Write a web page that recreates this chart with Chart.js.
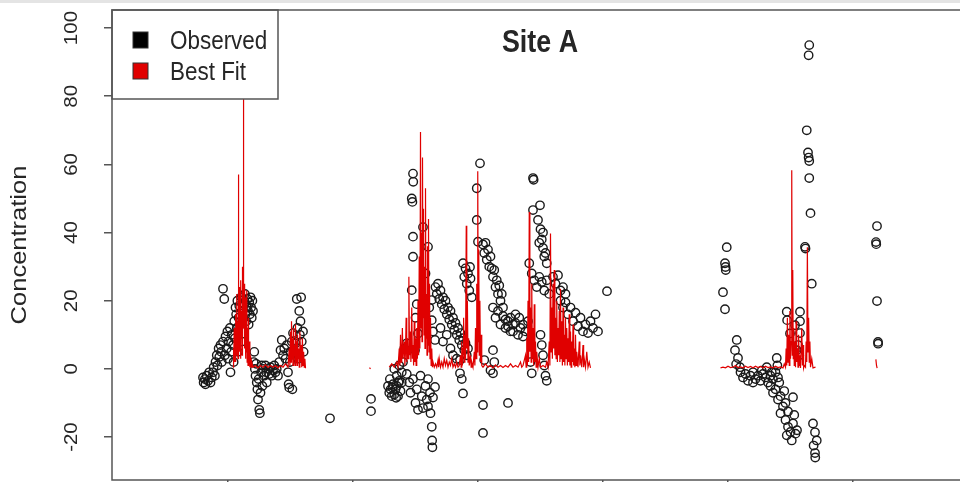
<!DOCTYPE html>
<html><head><meta charset="utf-8">
<script src="https://cdn.jsdelivr.net/npm/chart.js@4.4.1/dist/chart.umd.min.js"></script>
<style>
html,body{margin:0;padding:0;background:#fff;overflow:hidden;width:960px;height:482px}
#wrap{position:absolute;left:0;top:0;width:1000px;height:500px}
#strip{position:absolute;left:0;top:0;width:960px;height:3px;background:#e4e4e4;z-index:2}
</style></head>
<body><div id="strip"></div><div id="wrap"><canvas id="c"></canvas></div>
<script>
const titleText = 'Site A';
const yAxisTitle = 'Concentration';
const seriesNames = ['Observed', 'Best Fit'];
const seriesColors = ['#000000', '#e00000'];
const yTickValues = [-20, 0, 20, 40, 60, 80, 100];
const yTickLabels = ['-20', '0', '20', '40', '60', '80', '100'];
const xTickValues = [100, 200, 300, 400, 500, 600];

// Observed values [time, concentration]
const obs1 = [[80,-2.5],[80.5,-4],[81.5,-3],[82,-4.5],[83,-2],[84,-3.5],[85,-1],[86,-4],[87,-2.5],[88,-1],[88.5,0.5],[89.5,-2],[90,2],[91,4],[91.5,1],[92.5,6],[93,3.5],[94,7],[94.5,5],[95,2],[96,8],[96,23.5],[97,20.5],[97.5,4],[98,9.5],[99,6],[99.5,11],[100,3],[100.5,8],[101.5,12],[102,-1],[102.5,5],[103,10],[104,7],[104.5,2],[105,14],[105.5,9],[106,18],[106.5,16],[107,12],[107.5,20],[108,5],[108.5,15],[109,18.5],[110,13],[110.5,21],[111,8],[111.5,17],[112,15],[113,19],[113.5,22],[114,16],[114.5,14],[115,18],[115.5,20.5],[116,17],[116.5,13],[117,19.5],[117.5,16],[118,21],[118.5,18],[119,15],[119.5,20],[120,17],[120.5,2],[121,5],[121.5,0],[122,-2],[122.5,1.5],[123,-4],[123.5,-6],[124,-9],[124.5,-3],[125,-12],[125.5,-13],[126,-7],[126.5,-1],[127,1],[127.5,-5],[128,0],[129,-2],[130,1],[130.5,-1],[131,-4],[132,0],[133,-1.5],[134,0.5],[135,-2],[136,-0.5],[137,1],[138,-1],[139,0],[140,-2],[141,2],[142,5.5],[143,8.5],[144,4],[145,6],[146,3],[147,7],[148,-1],[148.5,-4.5],[149,-5.5],[149.5,2],[150,5],[151,8],[151.5,-6],[152,10.5],[153,4.5],[154,7.5],[155,20.5],[155.5,12],[156,3],[157,17],[157.5,10],[158,14],[158.5,21],[159,8],[160,11],[160.5,5],[181.6,-14.5]];
const obs2 = [[214.4,-8.8],[214.4,-12.4],[228,-5],[229,-7],[230,-6],[231,-8],[232,-4.5],[233,-7.5],[234,-6],[235,-5],[236,-8],[237,-3.5],[238,-6.5],[239,-4],[229.5,-3],[231.5,-5.5],[234.5,-8.5],[236.5,-4],[233,0],[235,-2],[237,1],[239,-1],[240,2],[241,6],[243,7.5],[243,-1.5],[245,-4],[246,-7],[248,-3],[250,-10],[251,-6],[252,-12],[254,-2],[255,-8],[256,-11.5],[258,-5],[259,-9],[260,-3],[261.6,-7],[262,-13],[263,-17],[263.3,-21],[263.5,-23],[265.6,-5.3],[260,-11],[264,-8.4],[248,57.3],[248.2,54.9],[247,50],[247.5,49],[248,38.8],[248,32.9],[247,23.1],[249.6,5.5],[252,10.4],[250,15],[251,19],[256,41.6],[260,35.8],[263,20.2],[263,14.3],[265.6,8.5],[258,28],[261,18],[264,11],[266,24],[267,22],[268,25],[269,20.5],[270,23],[271,19],[272,21],[273,17.5],[274,20],[275,16],[276,18],[277,14.5],[278,17],[279,13],[280,15],[281,11.5],[282,13.5],[283,10],[284,12],[285,8.5],[286,10.5],[287,7],[288,9],[289,5.5],[290,7.5],[291,4],[292,6],[270,12],[272,8],[275,10],[278,6],[280,4],[283,3],[285.6,-1.3],[288,-7.2],[287,-3],[285.6,2.6],[288,31],[289,27],[290,29.5],[291,25],[292,28],[293,23],[294,26.5],[293.6,29.9],[295,21],[301.6,60.3],[299,53],[299,43.7],[300,37.3],[304,36.5],[305,34],[306,37],[307,32],[308,35],[309,30],[310,33],[311,29.5],[312,27],[313,29],[314,24],[315,26],[316,22],[317,24.5],[318,20],[319,22],[320,18],[312,18],[314,15],[316,17],[318,13],[320,15.5],[322,12],[324,14],[326,11],[328,13],[322,14.5],[324,12.5],[326,15],[328,11],[330,13.5],[332,10],[334,12],[336,9.5],[338,11],[340,14],[330,16],[333,15],[336,13],[304,-10.6],[304,-18.8],[324,-10],[312,5.5],[312,-1.3],[313,2],[305,2.6],[310,-0.4],[344,56],[344.5,55.5],[344,46.6],[349.6,48],[348,43.7],[350,41],[351,38],[352,35.5],[353,33],[349,37],[352,40],[354,34],[355,31],[341,31],[343,28],[345,26],[347,24],[349,27],[351,25.5],[353,23],[355,26],[357,22],[350,10],[351,7],[352,4],[353,1],[354,-2],[355,-3.5],[343,-1.3],[342,2],[360,27],[362,25],[364,27.5],[366,23],[368,24],[370,22],[366,20],[368,18],[370,19.5],[372,16],[374,18],[376,14],[378,16.5],[380,12.5],[382,15],[384,11],[386,13],[388,10.5],[390,14],[392,12],[394,16],[396,11],[403.2,22.8]];
const obs3 = [[499,35.7],[497.6,31],[498,29.9],[498.2,29],[496,22.5],[497.6,17.5],[507,8.5],[505.6,5.5],[508,3.2],[506.5,1.4],[509.6,0.5],[510,-1],[512,-2.5],[514,-1.5],[516,-3.5],[518,-2],[520,-4],[520,-1],[522,-3],[524,-2],[526,-3.5],[528,-1.5],[530,-2.5],[532,-4],[534,-2],[536,-3],[538,-1],[540,-2.5],[527,-0.5],[531,0.5],[535,-1],[539,3.2],[539.5,1],[534,-5],[536,-7],[538,-6],[540,-9],[542,-8],[544,-11],[546,-10],[548,-12.5],[541,-4],[545,-6.5],[542,-13],[546,-15],[548,-17],[550,-18.5],[552,-16],[554,-19],[547,-19.5],[553,-13.5],[551,-21],[552,-8.3],[555.2,-18],[547,16.8],[547.3,14.3],[557.6,16.8],[557.6,14],[557.6,10.5],[553.6,12.8],[549.6,10.4],[555,5.5],[556,7],[557,4],[565,95],[564.5,92],[563,70],[564,63.5],[564.5,62],[565,61],[565,56],[566,45.7],[561.6,35.8],[562,35.3],[567,25],[568,-16],[569.6,-18.6],[571,-21],[568.5,-22.5],[569.6,-24.7],[569.8,-26]];
const obs4 = [[619.2,41.9],[618.4,37.2],[618.6,36.6],[619.2,19.9],[620,7.9],[620.1,7.4]];

// Best fit values [time, concentration], one array per continuous stretch
const fit1 = [[104,0.5],[104.3,6],[104.6,1],[105,12],[105.3,2],[105.6,9],[106,2],[106.3,16],[106.6,4],[107,22],[107.3,6],[107.6,14],[108,3],[108.3,57],[108.6,8],[109,24],[109.3,5],[109.6,19],[110,3],[110.3,26],[110.6,9],[111,17],[111.3,4],[111.6,30],[112,12],[112.3,95],[112.6,14],[113,25],[113.3,6],[113.6,21],[114,3],[114.3,18],[114.6,5],[115,23],[115.3,2],[115.6,12],[116,1],[116.3,15],[116.6,2],[117,8],[117.5,0.5],[118,4],[118.5,0.5],[119,2],[120,0.5],[122,1],[124,0.3],[126,1],[128,0.5],[130,1.2],[132,0.4],[134,1],[136,0.5],[138,1],[140,0.3],[142,1],[144,0.5],[146,1.5],[148,0.5],[149,6],[149.5,1],[150,11],[150.4,2],[150.8,14],[151.2,3],[151.6,9],[152,1],[152.4,12],[152.8,4],[153.2,7],[153.6,1],[154,13],[154.4,2],[154.8,8],[155.2,1],[155.6,10],[156,3],[156.5,6],[157,0.5],[157.5,11],[158,2],[158.5,7],[159,0.5],[159.5,9],[160,1],[160.5,5],[161,0.5],[161.5,3],[162,0.2]];
const fit2 = [[213.2,0.4],[214,0]];
const fit3 = [[229,0.5],[231,1.5],[233,0.5],[235,2],[236,0.5],[237,6],[237.5,1],[238,10],[238.5,2],[239,4],[239.5,12],[240,3],[241,8],[241.5,1],[242,5],[242.5,15],[243,2],[243.5,9],[244,3],[244.7,27],[245.2,4],[245.8,11],[246.3,2],[247,18],[247.5,3],[248,7],[248.5,1],[249,14],[249.5,2],[250,9],[250.5,1],[251,12],[251.5,3],[252,20],[252.5,4],[253,33],[253.5,6],[254,69.5],[254.4,12],[254.8,40],[255.2,8],[255.6,62],[256,15],[256.4,47],[256.8,10],[257.2,30],[257.6,6],[258,53],[258.4,9],[258.8,22],[259.2,4],[259.6,36],[260,7],[260.4,44],[260.8,5],[261.2,25],[261.6,3],[262,15],[262.5,1],[263,6],[263.5,0.5],[264,2],[265,0.5],[266,1.5],[267,0.5],[268,2.5],[268.5,0.5],[269,3],[270,0.5],[271,2],[272,0.5],[273,3],[274,1],[275,2.5],[276,0.5],[277,2],[278,1],[279,3],[280,0.5],[281,1.5],[282,0.5],[283,2],[284,0.5],[285,1],[286,4],[286.5,0.5],[287,8],[287.5,1],[288,6],[288.5,15],[289,2],[289.5,10],[290,3],[290.6,42],[291,6],[291.5,20],[292,2],[292.5,9],[293,1],[294,4],[294.5,0.5],[295,2],[296,0.5],[297,5],[297.5,1],[298,12],[298.5,3],[299,25],[299.4,5],[299.8,58],[300.2,8],[300.6,35],[301,4],[301.5,20],[302,2],[302.5,10],[303,1],[304,0.5],[306,1.5],[308,0.5],[310,1],[312,0.3],[314,1.2],[316,0.5],[318,1],[320,0.4],[322,1],[324,0.5],[326,1.5],[328,0.5],[330,1],[332,0.5],[334,2],[335,0.5],[336,1],[338,4],[338.5,0.5],[339,9],[339.5,1],[340,20],[340.5,2],[341,46],[341.5,5],[342,18],[342.5,2],[343,25],[343.5,3],[344,12],[344.5,1],[345,19],[345.5,2],[346,8],[346.5,0.5],[347,5],[348,0.5],[349,3],[350,0.5],[352,1],[354,0.5],[355,2],[356,0.5],[357,8],[357.5,1],[358,39.7],[358.5,5],[359,18],[359.5,3],[360,25],[360.5,6],[361,29],[361.5,4],[362,15],[362.5,3],[363,20],[363.5,2],[364,12],[364.5,4],[365,17],[365.5,2],[366,23.5],[366.5,3],[367,14],[367.5,1],[368,18],[368.5,2],[369,10],[369.5,1],[370,15],[370.5,3],[371,12],[371.5,1],[372,9],[372.5,2],[373,16],[373.5,1],[374,11],[374.5,0.5],[375,8],[375.5,2],[376,13],[376.5,1],[377,6],[377.5,0.5],[378,10],[378.5,1],[379,5],[380,0.5],[381,8],[381.5,1],[382,4],[383,0.5],[384,7],[384.5,0.5],[385,3],[386,0.5],[387,5],[388,0.5],[389,2],[390,0.3]];
const fit4 = [[494,0.3],[496,0.5],[498,0.3],[500,0.8],[502,0.4],[504,0.5],[506,1],[508,0.4],[510,0.6],[512,0.3],[514,0.8],[516,0.4],[518,0.7],[520,0.3],[522,0.8],[524,0.4],[526,0.7],[528,0.3],[530,0.8],[532,0.4],[534,0.6],[536,0.3],[538,0.8],[540,0.4],[542,0.6],[544,0.3],[545,1.5],[546,0.5],[546.5,6],[547,1],[547.5,15],[548,2],[548.5,10],[549,1],[549.5,17],[550,3],[550.5,8],[551,58.3],[551.4,4],[551.8,29],[552.2,3],[552.6,12],[553,1],[553.5,8],[554,0.5],[554.5,14],[555,2],[555.5,6],[556,0.5],[556.5,10],[557,1],[557.5,4],[558,0.3],[559,12],[559.5,1],[560,7],[560.5,0.3],[561,1],[562,0.5],[562.5,8],[563,2],[563.5,35.7],[564,5],[564.5,15],[565,2],[565.5,8],[566,0.5],[567,3],[568,0.3],[570,0.5]];
const fit5 = [[618.3,2.8],[618.8,1],[619.3,0.2]];

const observedPoints = [obs1, obs2, obs3, obs4].flat().map(([x, y]) => ({x, y}));
const fitPoints = [];
[fit1, fit2, fit3, fit4, fit5].forEach((seg, i) => {
  if (i > 0) fitPoints.push({x: seg[0][0] - 0.1, y: null});
  seg.forEach(([x, y]) => fitPoints.push({x, y}));
});

const FONT = '"Liberation Sans", Arial, Helvetica, sans-serif';
const SX = 0.88;
function drawText(ctx, s, x, y, font, align, rotated) {
  ctx.save();
  ctx.translate(x, y);
  if (rotated) { ctx.rotate(-Math.PI / 2); ctx.scale(1, SX); }
  else { ctx.scale(SX, 1); }
  ctx.font = font;
  ctx.textAlign = align;
  ctx.textBaseline = 'middle';
  ctx.fillStyle = '#262626';
  ctx.fillText(s, 0, 0);
  ctx.restore();
}

const decor = {
  id: 'decor',
  afterDatasetsDraw(chart) {
    const {ctx, chartArea: a} = chart;
    ctx.save();
    ctx.fillStyle = '#fff';
    ctx.fillRect(a.left, a.top, 166, 89);
    ctx.strokeStyle = '#555';
    ctx.lineWidth = 1.5;
    ctx.strokeRect(a.left, a.top, 166, 89);
    seriesNames.forEach((name, i) => {
      const cy = 40 + i * 31;
      ctx.fillStyle = seriesColors[i];
      ctx.fillRect(133, cy - 8, 15, 16);
      ctx.strokeStyle = '#333';
      ctx.lineWidth = 1;
      ctx.strokeRect(133, cy - 8, 15, 16);
      drawText(ctx, name, 170, cy + 1.5, '25.5px ' + FONT, 'left', false);
    });
    drawText(ctx, titleText, (a.left + a.right) / 2, 44, 'bold 30.5px ' + FONT, 'center', false);
    ctx.restore();
  },
  afterDraw(chart) {
    const {ctx, chartArea: a, scales: {y}} = chart;
    ctx.save();
    ctx.strokeStyle = '#555';
    ctx.lineWidth = 1.5;
    ctx.strokeRect(a.left, a.top, a.right - a.left, a.bottom - a.top);
    yTickValues.forEach((v, i) => {
      drawText(ctx, yTickLabels[i], 72.5, y.getPixelForValue(v), '20.5px ' + FONT, 'center', true);
    });
    drawText(ctx, yAxisTitle, 20, (a.top + a.bottom) / 2, '25.5px ' + FONT, 'center', true);
    ctx.restore();
  }
};

new Chart(document.getElementById('c'), {
  type: 'scatter',
  data: {
    datasets: [
      {
        label: seriesNames[0],
        data: observedPoints,
        order: 1,
        pointStyle: 'circle',
        pointRadius: 4.2,
        pointBorderWidth: 1.4,
        borderColor: '#1a1a1a',
        backgroundColor: 'rgba(0,0,0,0)',
        showLine: false
      },
      {
        label: seriesNames[1],
        data: fitPoints,
        order: 0,
        showLine: true,
        spanGaps: false,
        borderColor: seriesColors[1],
        borderWidth: 1.2,
        pointRadius: 0,
        tension: 0
      }
    ]
  },
  options: {
    responsive: true,
    maintainAspectRatio: false,
    animation: false,
    layout: {padding: {left: 104, top: 10, right: 32, bottom: 12}},
    plugins: {legend: {display: false}, tooltip: {enabled: false}, title: {display: false}},
    scales: {
      x: {
        type: 'linear',
        min: 7.2,
        max: 692,
        afterBuildTicks: axis => { axis.ticks = xTickValues.map(v => ({value: v})); },
        ticks: {display: false},
        grid: {drawOnChartArea: false, drawTicks: true, tickLength: 8, color: '#555', lineWidth: 1.5},
        border: {display: false}
      },
      y: {
        type: 'linear',
        min: -32.6,
        max: 105.3,
        afterBuildTicks: axis => { axis.ticks = yTickValues.map(v => ({value: v})); },
        ticks: {display: false},
        grid: {drawOnChartArea: false, drawTicks: true, tickLength: 8, color: '#555', lineWidth: 1.5},
        border: {display: false}
      }
    }
  },
  plugins: [decor]
});
</script>
</body></html>
